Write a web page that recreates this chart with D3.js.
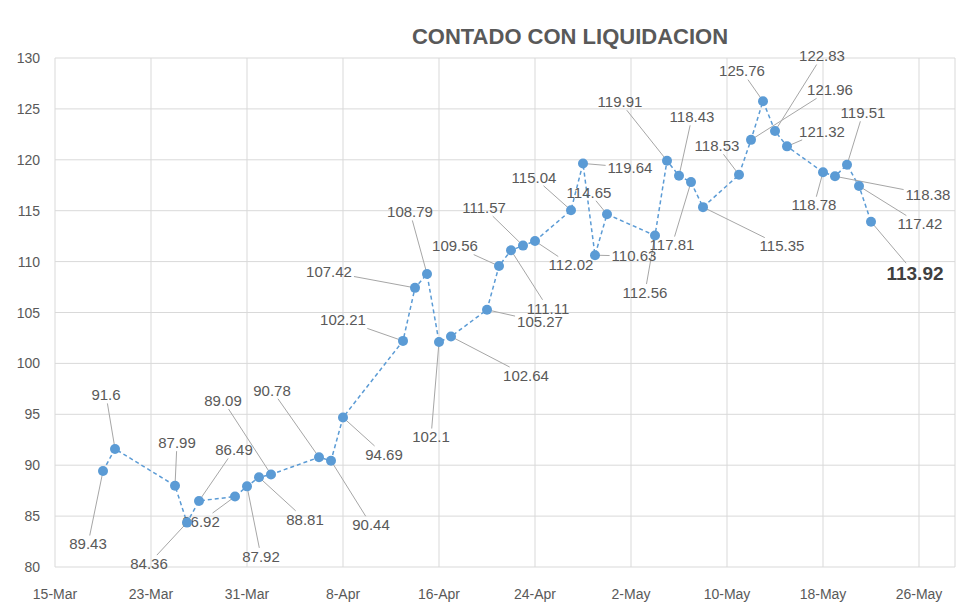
<!DOCTYPE html>
<html><head><meta charset="utf-8">
<script src="https://cdn.jsdelivr.net/npm/d3@7"></script>
<style>body{margin:0;background:#fff}</style></head>
<body><svg id="c" width="980" height="615"></svg>
<script>
const dates = ["2020-03-19","2020-03-20","2020-03-25","2020-03-26","2020-03-27","2020-03-30","2020-03-31","2020-04-01","2020-04-02","2020-04-06","2020-04-07","2020-04-08","2020-04-13","2020-04-14","2020-04-15","2020-04-16","2020-04-17","2020-04-20","2020-04-21","2020-04-22","2020-04-23","2020-04-24","2020-04-27","2020-04-28","2020-04-29","2020-04-30","2020-05-04","2020-05-05","2020-05-06","2020-05-07","2020-05-08","2020-05-11","2020-05-12","2020-05-13","2020-05-14","2020-05-15","2020-05-18","2020-05-19","2020-05-20","2020-05-21","2020-05-22"];
const values = [89.43,91.6,87.99,84.36,86.49,86.92,87.92,88.81,89.09,90.78,90.44,94.69,102.21,107.42,108.79,102.1,102.64,105.27,109.56,111.11,111.57,112.02,115.04,119.64,110.63,114.65,112.56,119.91,118.43,117.81,115.35,118.53,121.96,125.76,122.83,121.32,118.78,118.38,119.51,117.42,113.92];
const labelOffsets = [[-15,73],[-9,-54],[2,-43],[-38,41],[35,-51],[-34,25],[14,70],[46,42],[-48,-74],[-47,-67],[40,64],[41,37],[-60,-21],[-86,-16],[-17,-62],[-8,95],[75,39],[53,12],[-44,-20],[37,58],[-39,-38],[36,24],[-37,-33],[47,4],[39,1],[-18,-22],[-10,57],[-47,-59],[13,-59],[-19,63],[79,39],[-22,-29],[79,-50],[-21,-30],[47,-75],[35,-15],[-9,33],[93,18],[16,-52],[61,38],[44,52]];
const xTicks = ["2020-03-15","2020-03-23","2020-03-31","2020-04-08","2020-04-16","2020-04-24","2020-05-02","2020-05-10","2020-05-18","2020-05-26"];
const yTicks = [80,85,90,95,100,105,110,115,120,125,130];
const title = "CONTADO CON LIQUIDACION";

const p = d3.timeParse("%Y-%m-%d"), fmt = d3.timeFormat("%-d-%b");
const svg = d3.select("#c");
const L=55,R=955,T=58,B=567;
const x = d3.scaleTime().domain([p("2020-03-15"),p("2020-05-29")]).range([L,R]);
const y = d3.scaleLinear().domain([80,130]).range([B,T]);
const font="Liberation Sans, Arial, sans-serif", tc="#595959", blue="#5b9bd5";

svg.append("g").selectAll("line").data(yTicks).join("line")
 .attr("x1",L).attr("x2",R).attr("y1",d=>y(d)).attr("y2",d=>y(d)).attr("stroke","#d9d9d9");
svg.append("g").selectAll("line").data(xTicks).join("line")
 .attr("x1",d=>x(p(d))).attr("x2",d=>x(p(d))).attr("y1",T).attr("y2",B).attr("stroke","#d9d9d9");
svg.append("line").attr("x1",R).attr("x2",R).attr("y1",T).attr("y2",B).attr("stroke","#d9d9d9");
svg.append("g").selectAll("text").data(yTicks).join("text")
 .attr("x",L-15).attr("y",d=>y(d)+5).attr("text-anchor","end").attr("font-family",font).attr("font-size",14).attr("fill",tc).text(d=>d);
svg.append("g").selectAll("text").data(xTicks).join("text")
 .attr("x",d=>x(p(d))).attr("y",599).attr("text-anchor","middle").attr("font-family",font).attr("font-size",14).attr("fill",tc).text(d=>fmt(p(d)));
svg.append("text").attr("x",570).attr("y",44).attr("text-anchor","middle").attr("font-family",font).attr("font-weight","bold").attr("font-size",22).attr("fill",tc).text(title);

const pts = dates.map((d,i)=>({x:x(p(d)),y:y(values[i]),v:values[i],o:labelOffsets[i],last:i===dates.length-1}));
svg.append("path").datum(pts).attr("d",d3.line().x(d=>d.x).y(d=>d.y)).attr("fill","none").attr("stroke",blue).attr("stroke-width",1.5).attr("stroke-dasharray","4,3");

const lg = svg.append("g"), tg = svg.append("g");
pts.forEach(d=>{
  const lx=d.x+d.o[0], ly=d.y+d.o[1];
  const t = tg.append("text").attr("x",lx).attr("y",ly).attr("dy","0.35em").attr("text-anchor","middle")
   .attr("font-family",font).attr("font-size",d.last?19:15).attr("font-weight",d.last?"bold":"normal").attr("fill",d.last?"#404040":tc).text(d.v);
  const bb = t.node().getBBox();
  const hw=bb.width/2+2, hh=bb.height/2;
  const dx=d.x-lx, dy=d.y-ly;
  const s = Math.min(Math.abs(dx)>0?hw/Math.abs(dx):Infinity, Math.abs(dy)>0?hh/Math.abs(dy):Infinity);
  if (s<1) lg.append("line").attr("x1",lx+dx*s).attr("y1",ly+dy*s).attr("x2",d.x).attr("y2",d.y).attr("stroke","#a6a6a6").attr("stroke-width",1);
});
svg.append("g").selectAll("circle").data(pts).join("circle").attr("cx",d=>d.x).attr("cy",d=>d.y).attr("r",5).attr("fill",blue);
</script></body></html>
